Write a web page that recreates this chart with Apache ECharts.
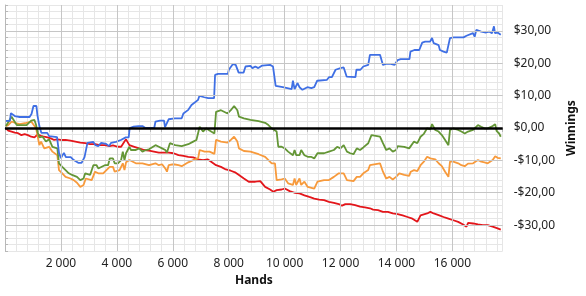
<!DOCTYPE html>
<html><head><meta charset="utf-8">
<script src="https://cdn.jsdelivr.net/npm/echarts@6/dist/echarts.min.js"></script>
<style>html,body{margin:0;padding:0;background:#fff}#c{width:586px;height:296px}</style>
</head><body><div id="c"></div>
<script>
const blueData = [[35,2.2],[176,2.2],[211,4.6],[281,4.0],[351,3.7],[527,3.4],[878,3.4],[948,4.3],[1018,6.8],[1124,6.8],[1159,4.0],[1229,0.6],[1299,-1.5],[1510,-1.5],[1580,-2.5],[1861,-2.8],[1931,-7.7],[2001,-9.3],[2107,-7.7],[2177,-9.0],[2352,-9.0],[2458,-9.9],[2633,-10.8],[2739,-10.8],[2844,-9.0],[2949,-4.6],[3160,-4.3],[3230,-5.3],[3335,-5.6],[3441,-4.6],[3616,-4.9],[3722,-5.6],[3792,-4.6],[3967,-4.3],[4143,-3.7],[4319,-2.9],[4424,-2.9],[4459,0.0],[4600,0.4],[4775,0.6],[4915,0.6],[5021,0.0],[5337,0.0],[5382,2.0],[5547,2.3],[5688,2.3],[5723,0.3],[5793,0.9],[5853,2.7],[6074,3.0],[6320,3.0],[6380,4.5],[6555,5.6],[6671,7.1],[6906,8.7],[6952,9.9],[7127,9.5],[7268,9.2],[7478,9.2],[7513,16.4],[7619,16.7],[7970,16.7],[8005,18.0],[8146,19.7],[8251,19.5],[8356,17.1],[8532,17.1],[8602,19.0],[8778,19.2],[8848,18.5],[8953,19.0],[9059,18.5],[9199,19.3],[9480,19.5],[9585,19.0],[9655,19.0],[9680,13.0],[9725,12.6],[9936,12.6],[10006,12.0],[10252,12.0],[10298,14.6],[10357,12.0],[10463,13.9],[10533,12.6],[10638,11.8],[10709,12.3],[10814,12.6],[10955,12.3],[11060,12.6],[11165,14.6],[11516,14.9],[11586,15.7],[11692,15.7],[11822,18.0],[11997,18.5],[12113,18.7],[12218,15.9],[12534,15.7],[12569,18.0],[12710,18.0],[12815,19.0],[12991,19.5],[13051,22.6],[13412,22.6],[13447,22.0],[13517,19.5],[13623,19.8],[13693,19.2],[13798,19.8],[13928,19.5],[14044,21.0],[14149,21.3],[14465,21.3],[14500,23.6],[14641,24.1],[14816,24.1],[14922,26.4],[15027,26.7],[15203,26.7],[15273,27.8],[15332,26.2],[15508,25.6],[15554,24.1],[15684,23.6],[15800,23.3],[15870,23.1],[15915,27.8],[16048,28.0],[16399,28.0],[16505,28.5],[16740,29.3],[16797,28.2],[16856,30.3],[17031,29.8],[17207,29.5],[17312,29.8],[17417,29.3],[17488,31.4],[17523,29.3],[17615,29.5],[17731,28.8]];

const greenData = [[35,0.6],[105,1.0],[235,3.5],[291,3.0],[421,0.9],[772,0.9],[808,1.4],[937,2.3],[1053,2.5],[1113,0.9],[1159,-1.1],[1229,-2.9],[1345,-2.7],[1464,-4.2],[1580,-3.5],[1696,-5.8],[1871,-6.3],[1931,-10.9],[2047,-12.0],[2166,-13.0],[2282,-14.0],[2398,-14.5],[2574,-15.1],[2693,-16.1],[2809,-15.6],[2869,-14.0],[3044,-14.5],[3160,-11.5],[3276,-11.5],[3335,-12.5],[3571,-11.5],[3687,-11.5],[3746,-9.4],[3862,-9.4],[3922,-10.9],[4038,-10.9],[4153,-9.9],[4213,-7.3],[4273,-9.9],[4329,-7.8],[4449,-5.8],[4505,-6.8],[4680,-6.8],[4799,-6.3],[4915,-7.3],[5031,-6.8],[5151,-6.6],[5382,-5.3],[5502,-5.8],[5618,-6.3],[5733,-6.8],[5793,-7.6],[5898,-4.7],[6085,-5.3],[6320,-5.6],[6555,-5.0],[6731,-4.2],[6846,-3.7],[6962,0.4],[7082,-1.1],[7198,-0.1],[7314,-0.8],[7489,-1.7],[7548,5.0],[7724,5.5],[7960,4.5],[8076,5.5],[8194,6.8],[8310,5.5],[8368,3.5],[8544,3.0],[8778,2.5],[8838,2.3],[9070,2.1],[9304,1.6],[9421,0.9],[9538,-0.1],[9597,-0.6],[9715,-1.1],[9774,-5.8],[9893,-5.8],[10006,-6.3],[10125,-7.3],[10298,-8.4],[10357,-6.8],[10416,-8.4],[10533,-8.4],[10593,-6.8],[10709,-8.4],[10826,-8.9],[10943,-8.9],[11060,-9.4],[11176,-7.8],[11411,-7.8],[11586,-7.3],[11762,-6.8],[11878,-5.8],[11997,-6.3],[12113,-5.3],[12172,-5.3],[12230,-7.3],[12347,-7.8],[12464,-8.1],[12581,-6.3],[12698,-6.8],[12815,-6.0],[12991,-4.7],[13107,-2.2],[13166,-2.7],[13412,-2.7],[13517,-4.7],[13634,-6.8],[13751,-6.3],[13868,-7.3],[13986,-6.8],[14044,-5.6],[14279,-5.8],[14454,-6.3],[14512,-5.6],[14629,-4.2],[14747,-4.7],[14862,-2.7],[14980,-1.8],[15097,-0.1],[15213,-0.4],[15273,1.2],[15389,-0.6],[15508,-1.1],[15624,-2.2],[15741,-3.7],[15859,-5.3],[15915,-0.6],[16032,-0.1],[16208,-0.6],[16322,-1.1],[16442,-1.7],[16560,-1.1],[16740,-0.6],[16915,0.9],[17031,0.4],[17148,-0.1],[17265,-0.1],[17441,0.6],[17532,1.2],[17580,-0.9],[17673,-1.7],[17731,-2.7]];

const orangeData = [[35,0.6],[116,0.9],[235,2.0],[411,1.4],[527,1.2],[762,1.6],[937,2.0],[994,2.5],[1113,-0.1],[1229,-5.3],[1289,-4.2],[1404,-6.3],[1580,-5.8],[1696,-7.3],[1871,-8.4],[1931,-13.0],[2047,-14.0],[2166,-15.1],[2342,-15.6],[2458,-16.1],[2574,-16.9],[2693,-18.2],[2809,-17.6],[2890,-15.6],[3100,-16.1],[3220,-13.5],[3335,-14.0],[3511,-14.0],[3627,-13.0],[3746,-12.0],[3862,-12.0],[3922,-13.5],[4097,-13.0],[4213,-10.9],[4273,-13.0],[4329,-10.6],[4449,-9.9],[4680,-10.9],[4915,-10.9],[5151,-11.5],[5382,-10.9],[5502,-11.5],[5618,-11.2],[5733,-12.5],[5793,-13.5],[5853,-11.5],[6029,-11.2],[6204,-11.5],[6320,-11.8],[6555,-10.6],[6787,-9.7],[6906,-9.4],[6962,-6.8],[7138,-7.3],[7314,-7.3],[7489,-8.0],[7548,-3.7],[7724,-4.2],[7960,-4.5],[8076,-3.7],[8194,-2.7],[8310,-4.2],[8368,-6.3],[8544,-7.1],[8778,-7.3],[8838,-7.6],[9070,-8.1],[9304,-8.9],[9421,-9.9],[9538,-10.9],[9655,-10.9],[9715,-16.1],[9893,-15.9],[10006,-15.6],[10125,-17.1],[10298,-17.6],[10357,-15.6],[10416,-17.6],[10533,-15.6],[10593,-17.6],[10709,-16.6],[10826,-18.2],[11060,-18.7],[11176,-16.6],[11411,-16.1],[11586,-16.1],[11762,-15.1],[11938,-14.0],[12113,-14.0],[12230,-16.1],[12464,-16.4],[12581,-15.1],[12698,-15.1],[12815,-14.0],[12991,-13.0],[13051,-11.5],[13107,-10.9],[13412,-10.9],[13517,-13.5],[13634,-15.6],[13751,-15.1],[13868,-15.9],[13986,-15.1],[14103,-14.0],[14279,-14.5],[14454,-14.8],[14512,-13.5],[14629,-13.0],[14747,-13.3],[14862,-11.5],[14980,-10.4],[15097,-8.9],[15213,-9.4],[15273,-9.9],[15389,-9.7],[15508,-10.9],[15624,-11.8],[15741,-13.5],[15859,-15.1],[15915,-10.4],[16032,-10.4],[16208,-10.9],[16322,-11.5],[16442,-11.8],[16560,-11.0],[16740,-10.9],[16915,-9.9],[17031,-10.4],[17148,-10.6],[17265,-10.9],[17441,-9.9],[17532,-8.7],[17615,-9.2],[17731,-9.4]];

const redData = [[35,-0.1],[116,-0.8],[235,-1.1],[351,-1.4],[467,-1.6],[586,-2.2],[702,-1.9],[818,-2.2],[937,-2.7],[1053,-2.9],[1169,-2.0],[1289,-2.4],[1404,-2.7],[1520,-2.9],[1640,-3.2],[1756,-3.7],[1871,-3.5],[1991,-3.7],[2166,-3.7],[2342,-3.9],[2517,-4.2],[2693,-4.5],[2869,-4.7],[3044,-5.0],[3220,-5.0],[3395,-5.3],[3571,-5.3],[3746,-5.6],[3862,-5.4],[4038,-5.8],[4153,-5.8],[4273,-4.2],[4329,-3.5],[4449,-5.3],[4624,-5.8],[4799,-6.3],[4975,-6.8],[5151,-7.0],[5326,-7.3],[5502,-7.6],[5677,-7.6],[5853,-7.6],[6029,-7.8],[6204,-8.4],[6380,-8.6],[6555,-8.9],[6731,-9.1],[6906,-9.7],[7082,-9.9],[7257,-9.7],[7373,-10.4],[7548,-11.5],[7724,-12.0],[7899,-12.8],[8075,-13.2],[8251,-13.8],[8368,-14.5],[8544,-15.6],[8718,-16.6],[8778,-16.1],[8953,-16.6],[9129,-16.4],[9304,-18.2],[9480,-19.0],[9597,-19.7],[9715,-19.2],[9893,-19.0],[10006,-18.7],[10182,-19.5],[10357,-20.0],[10533,-20.2],[10709,-20.8],[10884,-21.3],[11060,-21.8],[11236,-22.1],[11411,-22.3],[11586,-22.8],[11762,-23.1],[11938,-23.5],[12053,-24.0],[12172,-23.5],[12347,-23.5],[12522,-23.8],[12698,-24.3],[12874,-24.5],[13051,-24.8],[13166,-25.2],[13342,-25.4],[13517,-25.9],[13693,-25.9],[13868,-26.4],[14044,-26.6],[14220,-27.0],[14395,-27.5],[14571,-28.0],[14746,-29.0],[14805,-29.3],[14862,-27.0],[14922,-26.9],[15097,-26.4],[15213,-25.9],[15332,-26.4],[15508,-26.9],[15684,-27.5],[15859,-28.0],[16034,-28.5],[16208,-29.0],[16384,-29.8],[16505,-30.5],[16563,-29.3],[16740,-29.5],[16915,-29.8],[17090,-30.0],[17265,-30.0],[17441,-30.5],[17617,-31.0],[17731,-31.4]];

const xTickLabels = [2000, 4000, 6000, 8000, 10000, 12000, 14000, 16000];
const yTickLabels = [-30, -20, -10, 0, 10, 20, 30];

const FONT = '"Noto Sans", "DejaVu Sans", sans-serif';
const MINOR = '#e6e6e6', MAJOR = '#c6c6c6';

function fmtHands(v) {
  return String(v).replace(/\B(?=(\d{3})+(?!\d))/g, ' ');
}
function fmtMoney(v) {
  return (v < 0 ? '-' : '') + '$' + Math.abs(v) + ',00';
}

const chart = echarts.init(document.getElementById('c'), null, {renderer: 'canvas'});
const mkLine = (name, data, color) => ({
  name, type: 'line', data, showSymbol: false, symbol: 'none', animation: false,
  lineStyle: {width: 1.8, color}, itemStyle: {color}, z: 3
});
const majorLines = xTickLabels.map(v => ({xAxis: v})).concat(yTickLabels.filter(v => v !== 0).map(v => ({yAxis: v})));
chart.setOption({
  animation: false,
  grid: {left: 5, right: 74, top: 5, bottom: 45, containLabel: false},
  xAxis: [{
    type: 'value', min: 0, max: 17800, interval: 400,
    name: 'Hands', nameLocation: 'middle', nameGap: 20,
    nameTextStyle: {fontFamily: FONT, fontWeight: 'bold', fontSize: 12, color: '#111'},
    axisLine: {show: true, lineStyle: {color: '#b8b8b8', width: 1}},
    axisTick: {show: true, length: 4, lineStyle: {color: '#b8b8b8'}},
    axisLabel: {
      margin: 7, fontFamily: FONT, fontSize: 12, color: '#222',
      formatter: v => xTickLabels.indexOf(v) >= 0 ? fmtHands(v) : ''
    },
    splitLine: {show: true, lineStyle: {color: MINOR, width: 1}}
  }],
  yAxis: [{
    type: 'value', position: 'right', min: -38, max: 38, interval: 2,
    name: 'Winnings', nameLocation: 'middle', nameRotate: 90, nameGap: 60,
    nameTextStyle: {fontFamily: FONT, fontWeight: 'bold', fontSize: 12, color: '#111'},
    axisLine: {show: true, lineStyle: {color: '#b8b8b8', width: 1}},
    axisTick: {show: true, length: 3, lineStyle: {color: '#b8b8b8'}},
    axisLabel: {
      margin: 11, fontFamily: FONT, fontSize: 12, color: '#222',
      formatter: v => yTickLabels.indexOf(v) >= 0 ? fmtMoney(v) : ''
    },
    splitLine: {show: true, lineStyle: {color: MINOR, width: 1}}
  }],
  series: [
    {
      type: 'line', data: [], z: 1, silent: true,
      markLine: {
        silent: true, symbol: 'none', label: {show: false}, animation: false,
        lineStyle: {color: MAJOR, width: 1, type: 'solid'},
        data: majorLines
      }
    },
    mkLine('Red', redData, '#e3161b'),
    mkLine('Orange', orangeData, '#f79a3c'),
    mkLine('Green', greenData, '#649636'),
    mkLine('Blue', blueData, '#3f6fe4'),
    {
      type: 'line', data: [], z: 10, silent: true,
      markLine: {
        silent: true, symbol: 'none', label: {show: false}, animation: false,
        lineStyle: {color: '#000', width: 2.5, type: 'solid'},
        data: [{yAxis: 0}]
      }
    }
  ]
});
</script></body></html>
